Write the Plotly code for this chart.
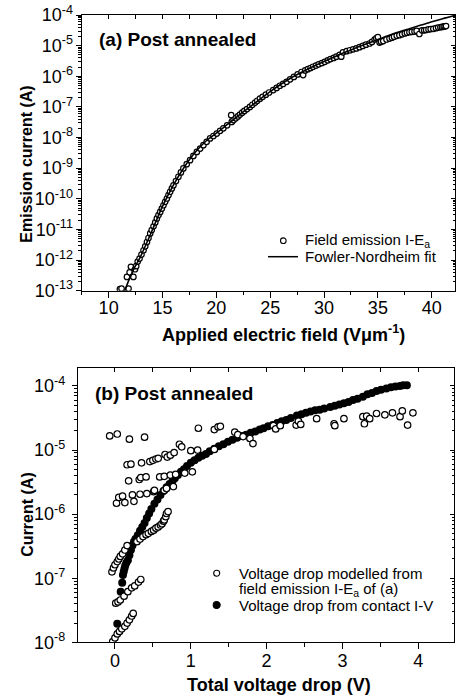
import plotly.graph_objects as go

# ---------------- data: panel (a) ----------------
fe_E = [11.05, 11.2, 11.7, 11.85, 11.95, 12.07, 12.3, 12.45, 12.56, 12.7,
        12.87, 13.05, 13.24, 13.4, 13.56, 13.7, 13.86, 14.0, 14.17, 14.33,
        14.48, 14.63, 14.79, 14.94, 15.09, 15.25, 15.41, 15.56, 15.71, 15.87,
        16.02, 16.25, 16.48, 16.71, 16.94, 17.25, 17.56, 17.87, 18.19, 18.5,
        18.8, 19.1, 19.42, 19.73, 20.04, 20.35, 20.65, 21.0, 21.38, 21.43,
        21.6, 21.8, 22.0, 22.19, 22.4, 22.6, 22.85, 23.12, 23.35, 23.6,
        23.8, 24.05, 24.3, 24.6, 24.9, 25.28, 25.6, 25.9, 26.2, 26.52,
        26.85, 27.2, 27.55, 27.91, 28.06, 28.25, 28.5, 28.75, 28.98, 29.25,
        29.5, 29.8, 30.07, 30.35, 30.6, 30.9, 31.15, 31.45, 31.6, 31.76,
        32.1, 32.4, 32.7, 33.0, 33.3, 33.6, 33.9, 34.23, 34.45, 34.7,
        34.85, 35.0, 35.16, 35.3, 35.5, 35.8, 36.08, 36.3, 36.5, 36.75,
        37.0, 37.25, 37.5, 37.7, 37.93, 38.15, 38.4, 38.6, 38.85, 39.1,
        39.3, 39.48, 39.7, 39.9, 40.15, 40.4, 40.6, 40.8, 40.95, 41.1,
        41.2, 41.33]
fe_log10_I = [-12.95, -12.93, -12.55, -12.93, -12.4, -12.22, -12.55, -12.3, -12.2, -12.05,
              -11.95, -11.82, -11.68, -11.55, -11.41, -11.28, -11.13, -11.02, -10.9, -10.77,
              -10.64, -10.53, -10.43, -10.32, -10.21, -10.1, -9.99, -9.88, -9.77, -9.66,
              -9.56, -9.42, -9.28, -9.14, -9.01, -8.87, -8.74, -8.6, -8.47, -8.36,
              -8.25, -8.14, -8.03, -7.95, -7.87, -7.78, -7.7, -7.6, -7.27, -7.49,
              -7.43, -7.37, -7.31, -7.25, -7.19, -7.13, -7.07, -7.0, -6.93, -6.86,
              -6.8, -6.73, -6.67, -6.6, -6.53, -6.45, -6.38, -6.31, -6.25, -6.18,
              -6.1, -6.02, -5.94, -5.86, -5.96, -5.81, -5.77, -5.73, -5.69, -5.65,
              -5.61, -5.57, -5.53, -5.48, -5.44, -5.4, -5.36, -5.3, -5.36, -5.22,
              -5.18, -5.15, -5.12, -5.09, -5.05, -5.01, -4.97, -4.93, -4.88, -4.8,
              -4.76, -4.72, -4.9, -4.87, -4.85, -4.8, -4.77, -4.74, -4.71, -4.68,
              -4.66, -4.63, -4.6, -4.58, -4.56, -4.55, -4.54, -4.52, -4.62, -4.5,
              -4.5, -4.49, -4.47, -4.46, -4.45, -4.43, -4.41, -4.4, -4.39, -4.38,
              -4.37, -4.36]

fn_E = [11.45, 11.85, 12.4, 12.9, 13.5, 14.2, 15.0, 16.0, 17.0, 18.0, 19.0, 20.0,
        21.0, 22.0, 23.0, 24.0, 25.0, 26.0, 27.0, 28.0, 29.0, 30.0, 31.0, 32.0,
        33.0, 34.0, 35.0, 36.0, 37.0, 38.0, 39.0, 40.0, 41.0, 42.3]
fn_log10_I = [-13.05, -12.68, -12.25, -11.93, -11.47, -10.9, -10.25, -9.56, -8.98, -8.5,
              -8.13, -7.86, -7.58, -7.3, -7.03, -6.76, -6.5, -6.26, -6.04, -5.85,
              -5.68, -5.52, -5.36, -5.21, -5.07, -4.93, -4.8, -4.67, -4.55, -4.44,
              -4.33, -4.22, -4.12, -4.0]

# ---------------- data: panel (b) ----------------
contact_V = [0.03, 0.075, 0.095, 0.105, 0.115, 0.125, 0.135, 0.15, 0.17, 0.19,
             0.21, 0.23, 0.25, 0.27, 0.30, 0.33, 0.36, 0.39, 0.42, 0.45,
             0.48, 0.52, 0.56, 0.60, 0.64, 0.68, 0.72, 0.76, 0.79, 0.83,
             0.87, 0.91, 0.95, 1.0, 1.05, 1.1, 1.15, 1.2, 1.25, 1.31,
             1.37, 1.43, 1.49, 1.55, 1.61, 1.67, 1.73, 1.79, 1.85, 1.91,
             1.96, 2.02, 2.08, 2.14, 2.2, 2.26, 2.32, 2.4, 2.46, 2.52,
             2.58, 2.64, 2.7, 2.76, 2.84, 2.9, 2.96, 3.02, 3.08, 3.14,
             3.2, 3.27, 3.33, 3.39, 3.45, 3.51, 3.58, 3.64, 3.7, 3.76,
             3.8, 3.85]
contact_log10_I = [-7.71, -7.21, -7.07, -6.95, -6.9, -6.85, -6.8, -6.76, -6.72, -6.64,
                   -6.56, -6.49, -6.43, -6.39, -6.33, -6.26, -6.2, -6.14, -6.06, -5.99,
                   -5.92, -5.84, -5.77, -5.7, -5.64, -5.58, -5.53, -5.48, -5.44, -5.39,
                   -5.34, -5.3, -5.25, -5.2, -5.16, -5.12, -5.09, -5.06, -5.02, -4.98,
                   -4.94, -4.91, -4.87, -4.84, -4.81, -4.78, -4.76, -4.73, -4.71, -4.68,
                   -4.66, -4.63, -4.61, -4.58, -4.55, -4.53, -4.5, -4.46, -4.44, -4.42,
                   -4.4, -4.38, -4.37, -4.35, -4.33, -4.31, -4.29, -4.27, -4.25, -4.22,
                   -4.2, -4.17, -4.13, -4.11, -4.08, -4.06, -4.04, -4.02, -4.01, -4.0,
                   -3.99, -3.99]

# (V, log10 I) pairs for the modelled voltage drop
modelled_points = [
    (-0.07, -4.78), (0.03, -4.75), (0.19, -4.83), (0.39, -4.80),
    (0.16, -5.23), (0.21, -5.22), (0.35, -5.2), (0.46, -5.18), (0.5, -5.16), (0.54, -5.14),
    (0.57, -5.13), (0.66, -5.07), (0.69, -5.11), (0.73, -5.08), (0.78, -5.04), (0.85, -4.91),
    (0.88, -4.95), (1.0, -5.01), (1.09, -5.0), (1.1, -4.66), (1.31, -4.99), (1.31, -4.68),
    (1.36, -4.64), (1.39, -4.63), (1.58, -4.72), (1.62, -4.76), (1.69, -4.79), (1.78, -4.82),
    (1.82, -4.9), (2.09, -4.62), (2.12, -4.67), (2.18, -4.62), (2.39, -4.61), (2.42, -4.55),
    (2.45, -4.6), (2.66, -4.51), (2.89, -4.59), (2.9, -4.62), (3.02, -4.51), (3.27, -4.48),
    (3.29, -4.59), (3.32, -4.47), (3.36, -4.51), (3.45, -4.43), (3.56, -4.45), (3.66, -4.42),
    (3.76, -4.48), (3.79, -4.39), (3.86, -4.61), (3.93, -4.42),
    (0.18, -5.48), (0.32, -5.46), (0.34, -5.43), (0.41, -5.42), (0.59, -5.42), (0.65, -5.41),
    (0.73, -5.39), (0.8, -5.38), (0.92, -5.36), (1.02, -5.34),
    (0.02, -5.83), (0.05, -5.74), (0.1, -5.72), (0.13, -5.82), (0.23, -5.7), (0.25, -5.8),
    (0.33, -5.69), (0.42, -5.68), (0.51, -5.65), (0.52, -5.63), (0.65, -5.63), (0.68, -5.6),
    (0.77, -5.57),
    (0.29, -6.43), (0.33, -6.39), (0.37, -6.35), (0.41, -6.32), (0.44, -6.3), (0.48, -6.27),
    (0.51, -6.25), (0.54, -6.22), (0.57, -6.2), (0.6, -6.17), (0.62, -6.15), (0.64, -6.11),
    (0.65, -6.09), (0.67, -6.04), (0.68, -5.99), (0.7, -5.96),
    (-0.04, -6.9), (-0.02, -6.84), (0.0, -6.79), (0.03, -6.74), (0.05, -6.7), (0.07, -6.66),
    (0.1, -6.62), (0.13, -6.56), (0.16, -6.49),
    (0.01, -7.39), (0.04, -7.37), (0.07, -7.34), (0.12, -7.28), (0.17, -7.21), (0.22, -7.15),
    (0.26, -7.12), (0.31, -7.06), (0.34, -7.02),
    (-0.03, -7.99), (0.0, -7.93), (0.03, -7.87), (0.06, -7.83), (0.09, -7.79), (0.13, -7.75),
    (0.16, -7.7), (0.19, -7.65), (0.22, -7.59), (0.24, -7.55),
]

a_ytick_exponents = list(range(-13, -3))
b_ytick_exponents = list(range(-8, -3))
a_xticks = [10, 15, 20, 25, 30, 35, 40]
b_xticks = [0, 1, 2, 3, 4]

# ---------------- figure ----------------
W, H = 456, 698
FONT = "Liberation Sans, Arial, Helvetica, sans-serif"


def px(x):
    return x / W


def py(y):
    return 1 - y / H


fe_I = [10 ** v for v in fe_log10_I]
fn_I = [10 ** v for v in fn_log10_I]
contact_I = [10 ** v for v in contact_log10_I]
mod_V = [p[0] for p in modelled_points]
mod_I = [10 ** p[1] for p in modelled_points]

fig = go.Figure()

fig.add_trace(go.Scatter(x=fe_E, y=fe_I, mode="markers", xaxis="x", yaxis="y",
                         marker=dict(symbol="circle", size=5.5, color="white",
                                     line=dict(color="black", width=1.2)),
                         showlegend=False, name="Field emission I-Ea"))
fig.add_trace(go.Scatter(x=fn_E, y=fn_I, mode="lines", xaxis="x", yaxis="y",
                         line=dict(color="black", width=1.6, shape="spline"),
                         showlegend=False, name="Fowler-Nordheim fit"))

fig.add_trace(go.Scatter(x=contact_V, y=contact_I, mode="markers", xaxis="x2", yaxis="y2",
                         marker=dict(symbol="circle", size=8, color="black",
                                     line=dict(width=0)),
                         showlegend=False, name="Voltage drop from contact I-V"))
fig.add_trace(go.Scatter(x=mod_V, y=mod_I, mode="markers", xaxis="x2", yaxis="y2",
                         marker=dict(symbol="circle", size=6.5, color="white",
                                     line=dict(color="black", width=1.2)),
                         showlegend=False, name="Voltage drop modelled"))

# empty traces so that the mirrored (inside-tick) axes get drawn
for xa, ya in [("x3", "y"), ("x", "y3"), ("x4", "y2"), ("x2", "y4")]:
    fig.add_trace(go.Scatter(x=[], y=[], xaxis=xa, yaxis=ya, showlegend=False,
                             hoverinfo="skip"))

a_dom_x = [px(81.7), px(455)]
a_dom_y = [py(290.7), py(15)]
b_dom_x = [px(78), px(454)]
b_dom_y = [py(642.3), py(368)]
a_xrange = [7.5, 42.16]
a_yrange = [-13, -4]
b_xrange = [-0.488, 4.472]
b_yrange = [-8, -3.72]

tickfont = dict(family=FONT, size=18, color="black")
common = dict(showgrid=False, zeroline=False, linecolor="black", linewidth=1.3,
              tickcolor="black", tickwidth=1, automargin=False)

log_minor_a = [k * 10.0 ** e for e in range(-13, -4) for k in range(2, 10)]
log_minor_b = [k * 10.0 ** e for e in range(-8, -3) for k in range(2, 10)]

fig.update_layout(
    width=W, height=H, template="none",
    margin=dict(l=0, r=0, t=0, b=0, pad=0),
    paper_bgcolor="white", plot_bgcolor="white",
    font=dict(family=FONT, color="black"),
    showlegend=False,
    xaxis=dict(domain=a_dom_x, anchor="y", range=a_xrange, showline=True, mirror=True,
               ticks="outside", ticklen=6, tickvals=a_xticks, tickfont=tickfont,
               ticklabelstandoff=-5,
               minor=dict(ticks="outside", ticklen=3, tick0=0, dtick=2.5, tickcolor="black"),
               **common),
    yaxis=dict(domain=a_dom_y, anchor="x", type="log", range=a_yrange, showline=True, mirror=True,
               ticks="outside", ticklen=5,
               tickvals=[10.0 ** e for e in a_ytick_exponents],
               ticktext=["10<sup>%d</sup>" % e for e in a_ytick_exponents],
               tickfont=tickfont, ticklabelstandoff=-1,
               minor=dict(ticks="outside", ticklen=2.5, tickvals=log_minor_a, tickcolor="black"),
               **common),
    xaxis3=dict(overlaying="x", side="top", anchor="y", range=a_xrange, showline=False,
                ticks="inside", ticklen=4, tick0=0, dtick=2.5, showticklabels=False, **common),
    yaxis3=dict(overlaying="y", side="right", anchor="x", type="log", range=a_yrange,
                showline=False, ticks="inside", ticklen=4,
                tickvals=[10.0 ** e for e in a_ytick_exponents], showticklabels=False,
                minor=dict(ticks="inside", ticklen=2, tickvals=log_minor_a, tickcolor="black"),
                **common),
    xaxis2=dict(domain=b_dom_x, anchor="y2", range=b_xrange, showline=True, mirror=True,
                ticks="outside", ticklen=6, tickvals=b_xticks, tickfont=tickfont,
                ticklabelstandoff=-4,
                minor=dict(ticks="outside", ticklen=3.5, tick0=0, dtick=0.5, tickcolor="black"),
                **common),
    yaxis2=dict(domain=b_dom_y, anchor="x2", type="log", range=b_yrange, showline=True, mirror=True,
                ticks="outside", ticklen=5,
                tickvals=[10.0 ** e for e in b_ytick_exponents],
                ticktext=["10<sup>%d</sup>" % e for e in b_ytick_exponents],
                tickfont=tickfont, ticklabelstandoff=3,
                minor=dict(ticks="outside", ticklen=2.5, tickvals=log_minor_b, tickcolor="black"),
                **common),
    xaxis4=dict(overlaying="x2", side="top", anchor="y2", range=b_xrange, showline=False,
                ticks="inside", ticklen=4, tick0=0, dtick=0.5, showticklabels=False, **common),
    yaxis4=dict(overlaying="y2", side="right", anchor="x2", type="log", range=b_yrange,
                showline=False, ticks="inside", ticklen=4,
                tickvals=[10.0 ** e for e in b_ytick_exponents], showticklabels=False,
                minor=dict(ticks="inside", ticklen=2, tickvals=log_minor_b, tickcolor="black"),
                **common),
)

ann = []


def text(x, y, s, size, bold=False, xanchor="left", angle=0):
    ann.append(dict(x=px(x), y=py(y), xref="paper", yref="paper", text=s, showarrow=False,
                    xanchor=xanchor, yanchor="middle", textangle=angle,
                    font=dict(family=FONT, size=size, color="black",
                              weight="bold" if bold else "normal")))


text(96.5, 39.5, "(a) Post annealed", 19, bold=True)
text(93, 393.5, "(b) Post annealed", 19, bold=True)
text(283, 334, "Applied electric field (Vμm<sup>-1</sup>)", 18, bold=True, xanchor="center")
text(279, 685, "Total voltage drop (V)", 18, bold=True, xanchor="center")
text(26.7, 164, "Emission current (A)", 16, bold=True, xanchor="center", angle=-90)
text(26.7, 515, "Current (A)", 16, bold=True, xanchor="center", angle=-90)

# legend (a)
text(303, 240.7, "Field emission I-E<sub>a</sub>", 15)
text(303, 256.7, "Fowler-Nordheim fit", 15)
# legend (b)
text(236.5, 573.3, "Voltage drop modelled from", 15)
text(236.5, 589.3, "field emission I-E<sub>a</sub> of (a)", 15)
text(236.5, 605, "Voltage drop from contact I-V", 15)

fig.update_layout(annotations=ann)

shapes = []


def circ(cx, cy, r, fill):
    shapes.append(dict(type="circle", xref="paper", yref="paper",
                       x0=px(cx - r), x1=px(cx + r), y0=py(cy + r), y1=py(cy - r),
                       line=dict(color="black", width=1.1), fillcolor=fill))


circ(283.3, 240.7, 2.8, "white")
shapes.append(dict(type="line", xref="paper", yref="paper", x0=px(268), x1=px(298),
                   y0=py(256.7), y1=py(256.7), line=dict(color="black", width=1.5)))
circ(216.7, 573.3, 3.0, "white")
circ(216.7, 605, 3.5, "black")
fig.update_layout(shapes=shapes)

fig.write_html("out.html", config={"displayModeBar": False},
               post_script="document.body.style.margin='0px';"
                           "document.body.style.overflow='hidden';")
